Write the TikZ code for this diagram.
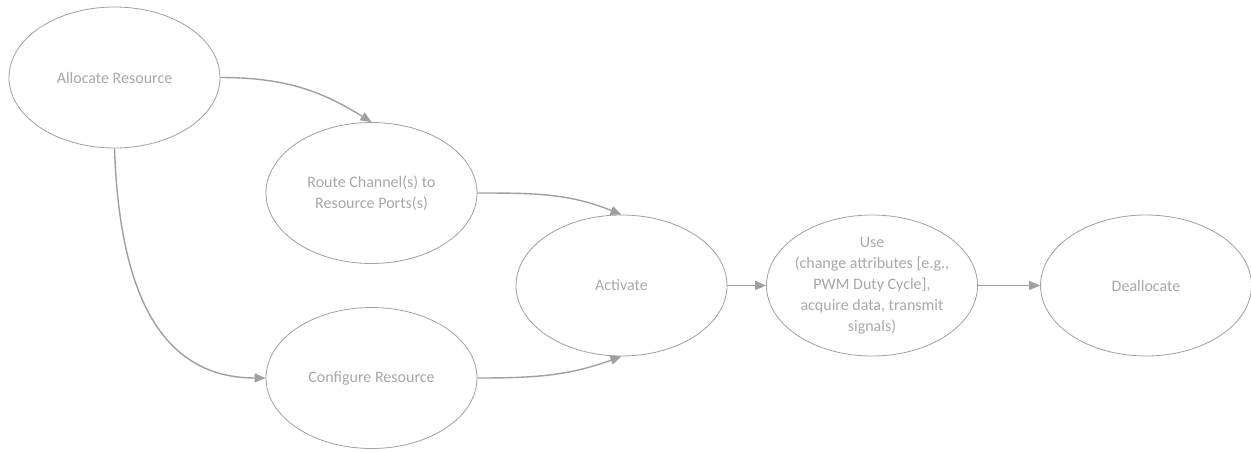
\documentclass[tikz,border=0pt]{standalone}
\usepackage{fontspec}
\setmainfont{Carlito}
\usetikzlibrary{shapes.geometric,arrows.meta}
\definecolor{linegray}{HTML}{A0A0A0}
\definecolor{textgray}{HTML}{A8A8A8}
\tikzset{
  stage/.style={ellipse, draw=linegray, line width=0.8pt, minimum width=211pt, minimum height=141pt, inner sep=0pt, text=textgray, align=center, font=\fontsize{16}{21}\selectfont},
  flow/.style={draw=linegray, line width=1.4pt, -{Triangle[length=11pt,width=9pt]}}
}
\begin{document}
\begin{tikzpicture}[x=1pt,y=-1pt]
\useasboundingbox (0,0) rectangle (1251,451);
\node[stage] (alloc) at (114.5,77.5) {Allocate Resource};
\node[stage] (route) at (371.5,193) {Route Channel(s) to\\Resource Ports(s)};
\node[stage] (conf) at (371.5,378) {Configure Resource};
\node[stage] (act) at (621.5,285.5) {Activate};
\node[stage, inner xsep=-20pt, inner ysep=-10pt] (use) at (872,285.5) {Use\\(change attributes [e.g.,\\PWM Duty Cycle],\\acquire data, transmit\\signals)};
\node[stage] (dealloc) at (1146,285.5) {Deallocate};
\draw[flow] (alloc.east) to[out=0,in=148] (route.north);
\draw[flow] (alloc.south) to[out=-88,in=180,looseness=1.1] (conf.west);
\draw[flow] (route.east) to[out=0,in=158] (act.north);
\draw[flow] (conf.east) to[out=0,in=-160] (act.south);
\draw[flow] (act.east) -- (use.west);
\draw[flow] (use.east) -- (dealloc.west);
\end{tikzpicture}
\end{document}
